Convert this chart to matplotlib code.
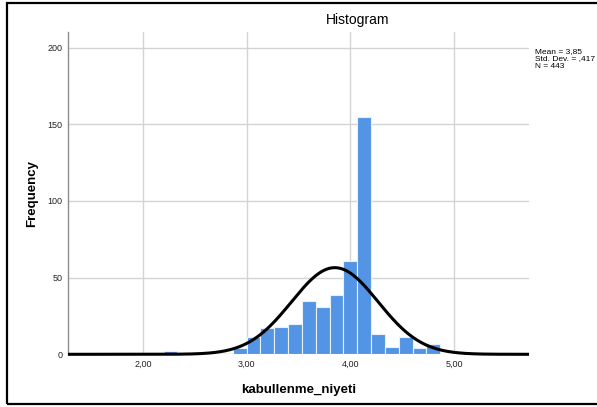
import matplotlib.pyplot as plt
import numpy as np
from matplotlib.patches import Rectangle

# histogram of kabullenme_niyeti, bin width 2/15
bin_width = 2 / 15
bin_starts = [2.2, 2.6, 2.7333, 2.8667, 3.0, 3.1333, 3.2667, 3.4, 3.5333, 3.6667,
              3.8, 3.9333, 4.0667, 4.2, 4.3333, 4.4667, 4.6, 4.7333]
counts = [2, 1, 1, 4, 11, 17, 18, 20, 35, 31, 39, 61, 155, 13, 5, 11, 4, 7]

mean = 3.85
std_dev = 0.417
n_total = 443

x_ticks = [2.0, 3.0, 4.0, 5.0]
x_tick_labels = ["2,00", "3,00", "4,00", "5,00"]
y_ticks = [0, 50, 100, 150, 200]

plt.rcParams['font.family'] = ['Liberation Sans', 'DejaVu Sans']

fig = plt.figure(figsize=(5.97, 4.07), dpi=100)
ax = fig.add_axes([68 / 597, 1 - 354.3 / 407, (529 - 68) / 597, (354.3 - 32.3) / 407])

ax.bar(bin_starts, counts, width=bin_width, align='edge', color='#5394e4',
       edgecolor='#e8f0fb', linewidth=0.8, zorder=2)

# normal curve
xmin, xmax = 1.278, 5.722
xs = np.linspace(xmin, xmax, 400)
ys = n_total * bin_width / (std_dev * np.sqrt(2 * np.pi)) * np.exp(-0.5 * ((xs - mean) / std_dev) ** 2)
ax.plot(xs, ys, color='black', linewidth=2.2, zorder=3, clip_on=False, solid_capstyle='butt')

ax.set_xlim(xmin, xmax)
ax.set_ylim(0, 210)
ax.set_xticks(x_ticks)
ax.set_xticklabels(x_tick_labels)
ax.set_yticks(y_ticks)
ax.grid(True, color='#d4d4d4', linewidth=1.0, zorder=0)
ax.set_axisbelow(True)
ax.tick_params(length=0, labelsize=6.5, colors='#222222', pad=4)

for side in ['top', 'right', 'bottom']:
    ax.spines[side].set_visible(False)
ax.spines['left'].set_color('#8c8c8c')
ax.spines['left'].set_linewidth(1.0)

ax.set_xlabel("kabullenme_niyeti", fontsize=9.5, fontweight='bold', labelpad=11)
ax.set_ylabel("Frequency", fontsize=9.5, fontweight='bold', labelpad=7)

fig.text(358 / 597, 1 - 20 / 407, "Histogram", fontsize=10, ha='center', va='center')
fig.text(535 / 597, 1 - 48 / 407, "Mean = 3,85\nStd. Dev. = ,417\nN = 443",
         fontsize=6, ha='left', va='top', linespacing=1.05)

# outer frame
fig.patches.append(Rectangle((7 / 597, 1 - 404 / 407), 1.0, 401 / 407, transform=fig.transFigure,
                             fill=False, edgecolor='black', linewidth=1.6))

fig.savefig("out.png", dpi=100)
